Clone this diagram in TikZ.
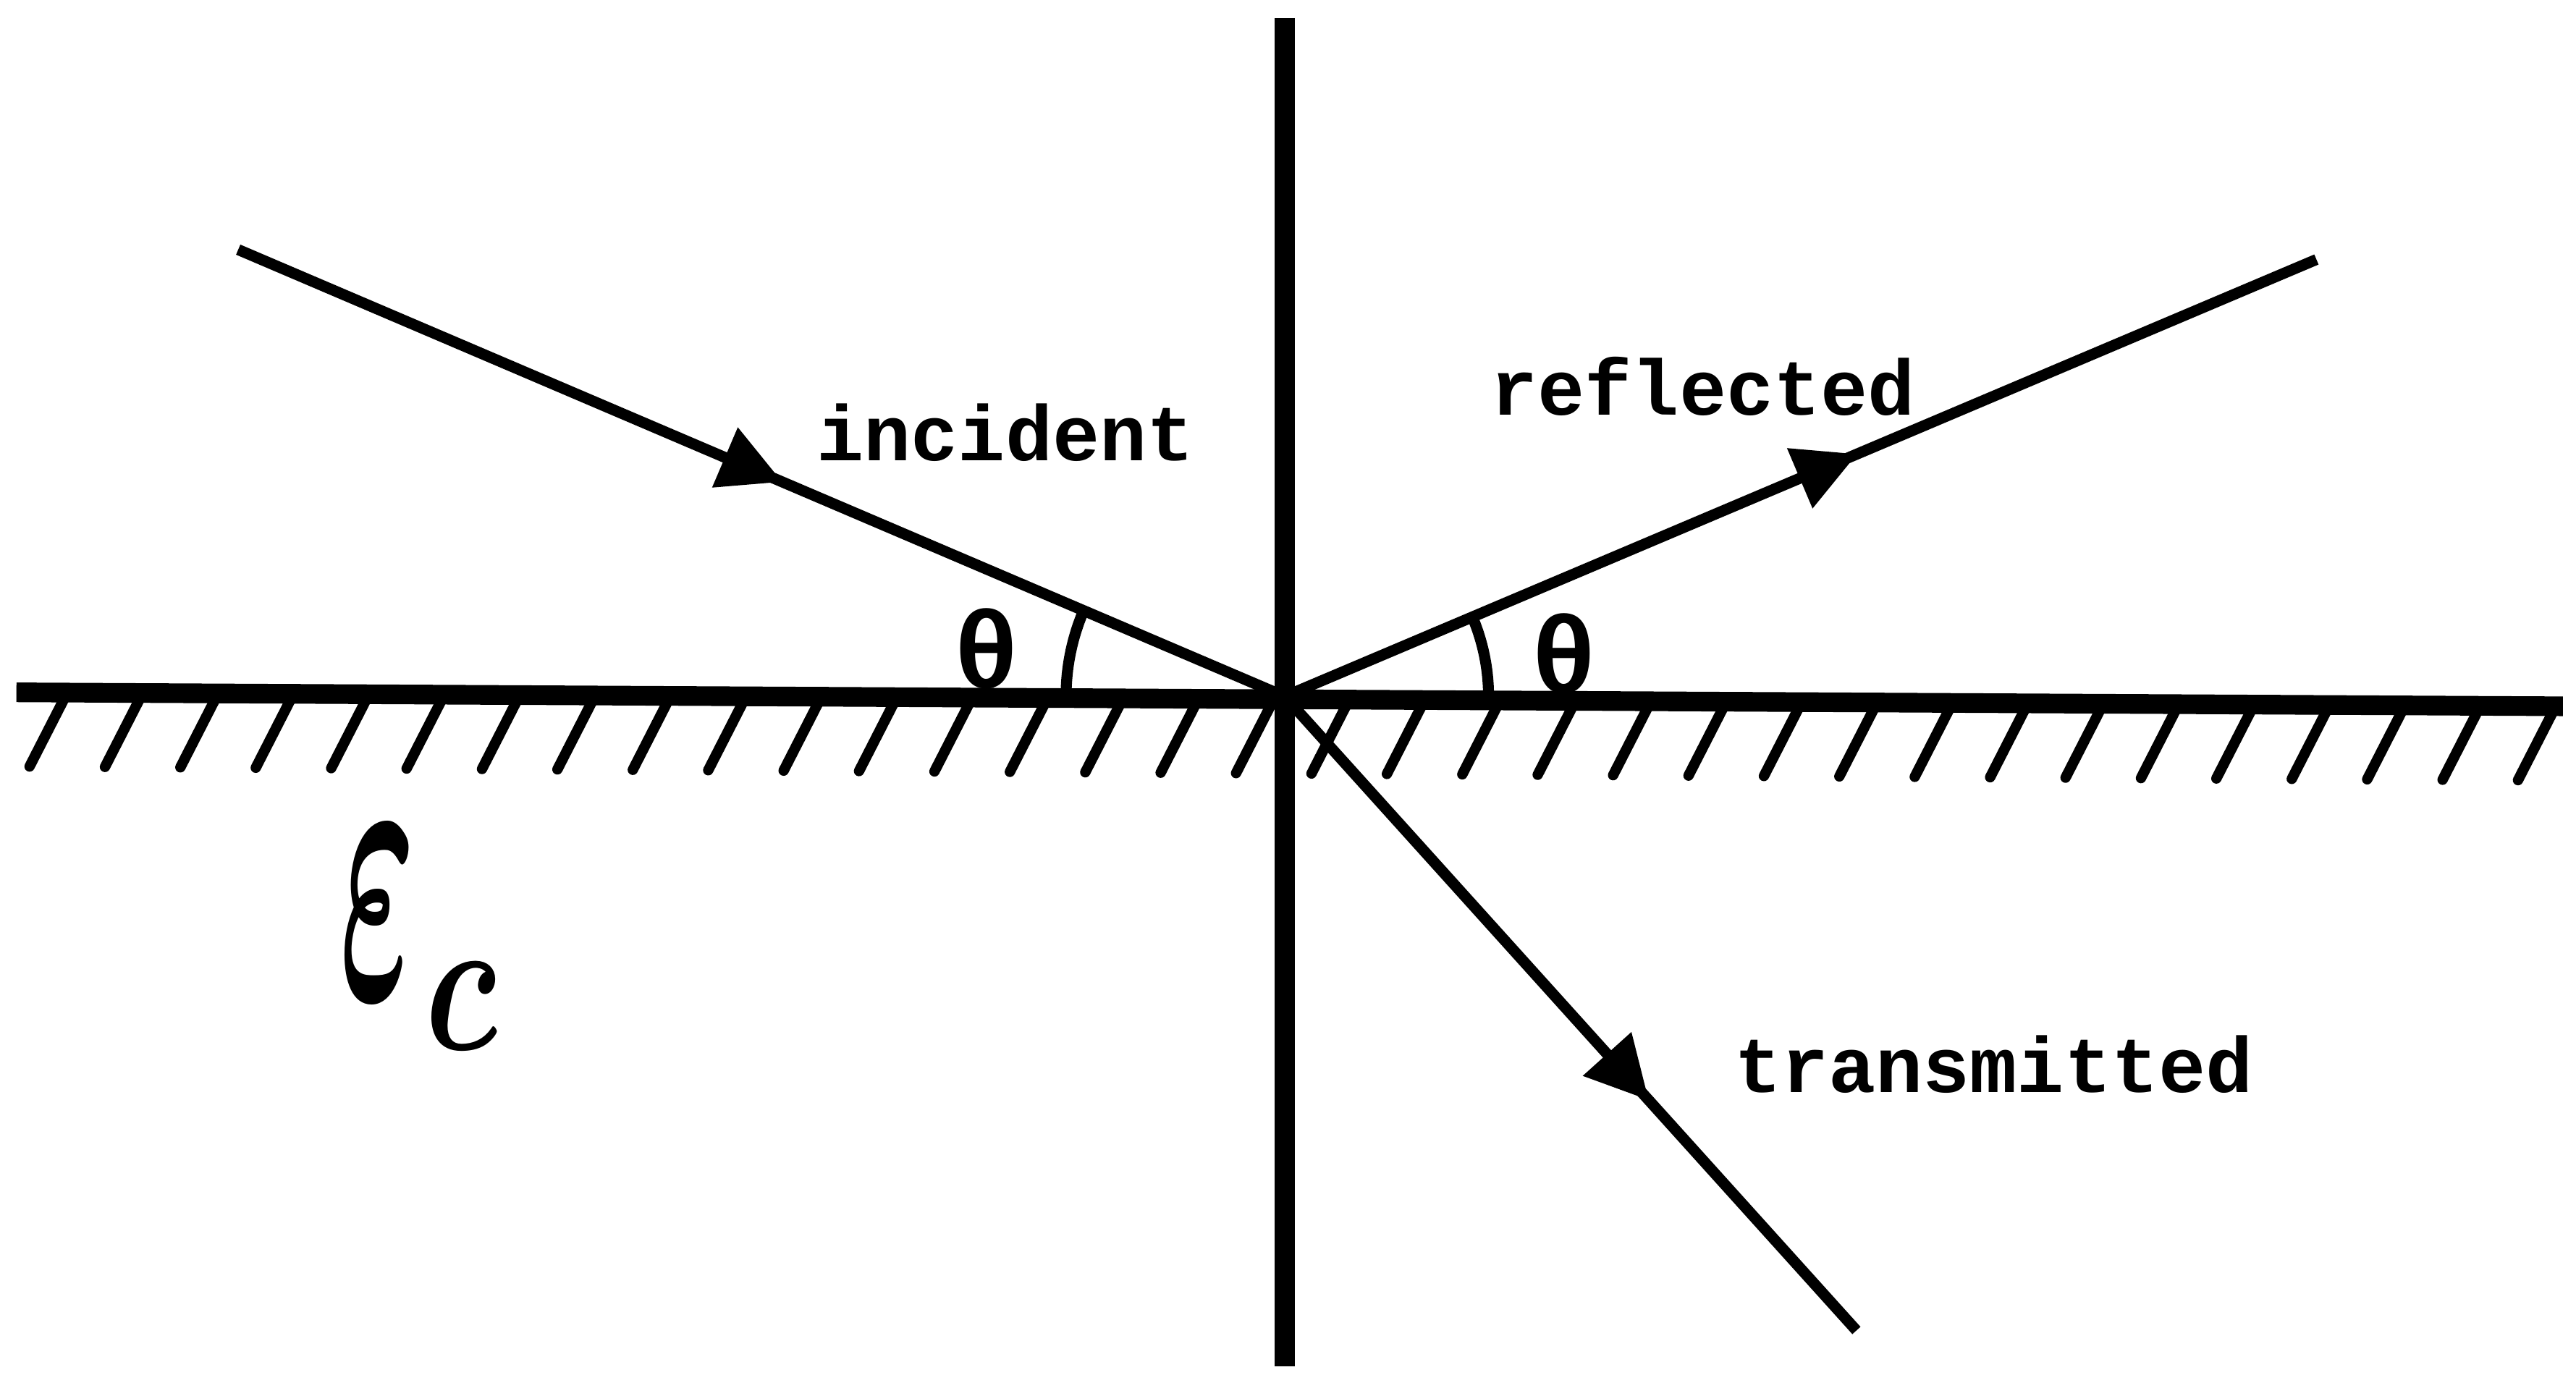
\documentclass[tikz,border=0pt]{standalone}
\usepackage{fontspec}
\usepackage{graphicx}
\usepackage{bm}
\newfontfamily\typefont{Liberation Mono}
\usetikzlibrary{arrows.meta,decorations.markings}
\begin{document}
\begin{tikzpicture}[x=0.01cm,y=0.01cm,
  axisline/.style={line width=3.4pt},
  ray/.style={line width=1.9pt},
  rayarrow/.style={postaction={decorate,decoration={markings,
      mark=at position #1 with {\arrow{Triangle[length=0.38cm,width=0.38cm]}}}}},
  hatch/.style={line width=1.8pt,line cap=round},
  arcline/.style={line width=1.9pt},
  lbl/.style={font=\typefont\bfseries\fontsize{13.6}{16}\selectfont,inner sep=0pt},
  thetalbl/.style={font=\typefont\bfseries\fontsize{19}{21}\selectfont,inner sep=0pt}]
\useasboundingbox (0,0) rectangle (1568,837);

% key points
\coordinate (O) at (782,413);
\coordinate (inc) at (145,685);
\coordinate (refl) at (1410,679);
\coordinate (trans) at (1130,27);
\coordinate (vtop) at (782,826);
\coordinate (vbot) at (782,5);
\coordinate (hl) at (10,415.5);
\coordinate (hr) at (1560,407);

% surface and normal
\draw[axisline] (hl) -- (hr);
\draw[axisline] (vtop) -- (vbot);

% hatching below the surface
\foreach \k in {0,...,33}{
  \pgfmathsetmacro\hx{38+45.9*\k}
  \pgfmathsetmacro\hy{415.5-8.5*(\hx-10)/1550}
  \draw[hatch] (\hx+3,\hy) -- (\hx-20,\hy-45);
}

% rays
\draw[ray,rayarrow=0.52] (inc) -- (O);
\draw[ray,rayarrow=0.555] (O) -- (refl);
\draw[ray,rayarrow=0.637] (O) -- (trans);

% angle arcs
\draw[arcline] (O) ++(180:1.33cm) arc[start angle=180,end angle=157,radius=1.33cm];
\draw[arcline] (O) ++(0:1.24cm) arc[start angle=0,end angle=23,radius=1.24cm];

% labels
\node[lbl,anchor=base] (tinc) at (612,556.4) {incident};
\node[lbl,anchor=base] (trefl) at (1036.5,584.5) {reflected};
\node[lbl,anchor=base] (ttrans) at (1213.5,172) {transmitted};
\node[thetalbl] (th1) at (600.5,442) {θ};
\node[thetalbl] (th2) at (952,439) {θ};
\node[inner sep=0pt,anchor=base west] (eps) at (206,229)
  {\resizebox{0.46cm}{1.04cm}{$\bm{\varepsilon}$}\hspace{0.06cm}\raisebox{-0.31cm}{\resizebox{0.44cm}{0.53cm}{$\bm{c}$}}};
\end{tikzpicture}
\end{document}
